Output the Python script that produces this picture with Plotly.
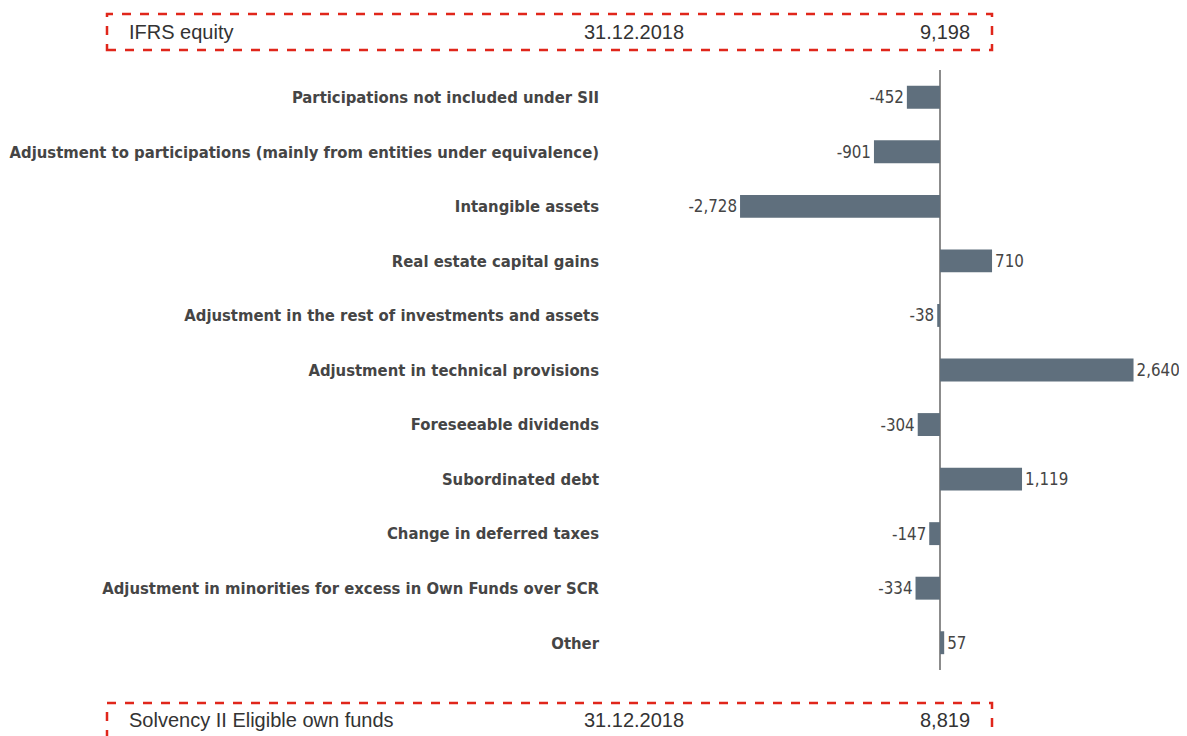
import plotly.graph_objects as go

categories = [
    "Participations not included under SII",
    "Adjustment to participations (mainly from entities under equivalence)",
    "Intangible assets",
    "Real estate capital gains",
    "Adjustment in the rest of investments and assets",
    "Adjustment in technical provisions",
    "Foreseeable dividends",
    "Subordinated debt",
    "Change in deferred taxes",
    "Adjustment in minorities for excess in Own Funds over SCR",
    "Other",
]
values = [-452, -901, -2728, 710, -38, 2640, -304, 1119, -147, -334, 57]

top_box = ["IFRS equity", "31.12.2018", "9,198"]
bottom_box = ["Solvency II Eligible own funds", "31.12.2018", "8,819"]

# the page puts the figure 8px in from the top-left corner
OFF = 8
W, H = 1187, 736
L, R, T, B = 610 - OFF, 7 + OFF, 70 - OFF, 66 + OFF
pw, ph = W - L - R, H - T - B


def px(x):
    return (x - OFF - L) / pw


def py(y):
    return (H - B - (y - OFF)) / ph


fig = go.Figure(go.Bar(
    x=values,
    y=categories,
    orientation="h",
    width=0.42,
    marker=dict(color="#5f6f7d", line=dict(width=0)),
    text=[f"{v:,}" for v in values],
    textposition="outside",
    cliponaxis=False,
    textfont=dict(family="DejaVu Sans Condensed, DejaVu Sans", size=16.8, color="#454545"),
))

box_font = dict(family="Liberation Sans Narrow, Arial Narrow, Liberation Sans", size=20, color="#333333")
shapes = []
annotations = []
for box, (y0, y1) in [(top_box, (14, 50)), (bottom_box, (703, 742))]:
    shapes.append(dict(
        type="rect", xref="paper", yref="paper",
        x0=px(107), x1=px(992), y0=py(y1), y1=py(y0),
        line=dict(color="#e0261b", width=2.5, dash="dash"),
    ))
    yc = py(32 if y0 == 14 else 720)
    annotations += [
        dict(x=px(127), y=yc, text=box[0], xanchor="left"),
        dict(x=px(634), y=yc, text=box[1], xanchor="center"),
        dict(x=px(972), y=yc, text=box[2], xanchor="right"),
    ]
for a in annotations:
    a.update(xref="paper", yref="paper", yanchor="middle", showarrow=False, font=box_font)

fig.update_layout(
    width=W, height=H,
    margin=dict(l=L, r=R, t=T, b=B),
    plot_bgcolor="white", paper_bgcolor="white",
    showlegend=False,
    xaxis=dict(range=[-4502, 3274], showgrid=False, showticklabels=False, automargin=False,
               zeroline=True, zerolinecolor="#8c8c8c", zerolinewidth=1.5),
    yaxis=dict(autorange="reversed", showgrid=False, ticks="", ticklabelstandoff=10,
               automargin=False,
               tickfont=dict(family="DejaVu Sans Condensed, DejaVu Sans", size=16.5,
                             color="#454545", weight="bold")),
    shapes=shapes,
    annotations=annotations,
)

fig.write_html("out.html")
